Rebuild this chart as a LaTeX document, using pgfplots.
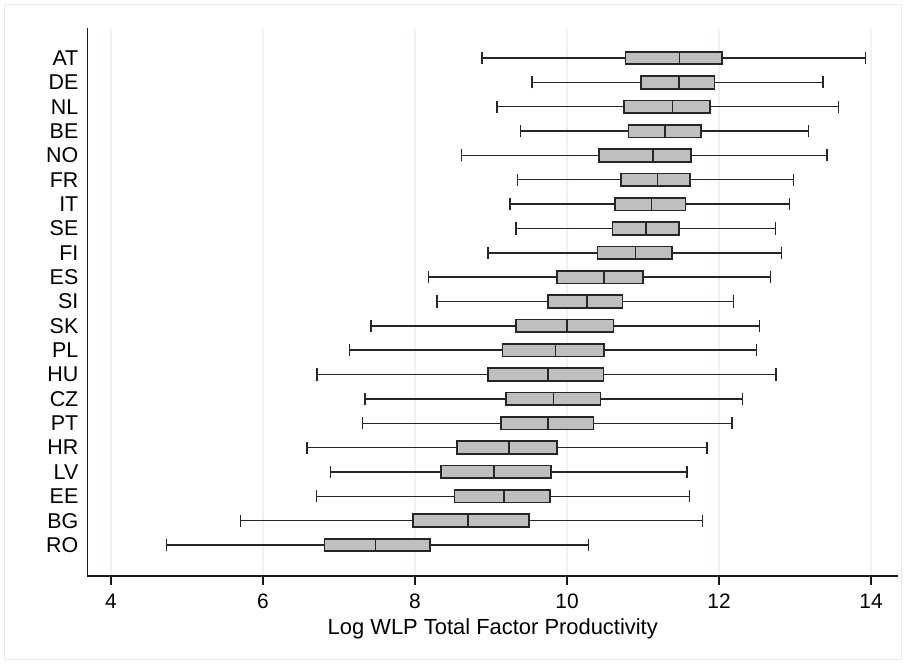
\documentclass[border=0pt]{standalone}
\usepackage{fontspec}
\setmainfont{Liberation Sans}
\usepackage{pgfplots}
\pgfplotsset{compat=1.18}
\usepgfplotslibrary{statistics}
\definecolor{boxfill}{RGB}{191,191,191}
\definecolor{edge}{RGB}{38,38,38}
\definecolor{gridc}{RGB}{236,243,244}
\definecolor{framec}{RGB}{228,235,238}
\pgfplotsset{
  bx/.style={
    boxplot/draw direction=x,
    boxplot/box extend=0.52,
    boxplot/whisker extend=0.5,
    boxplot/every box/.style={draw=edge, fill=boxfill, line width=1.7bp},
    boxplot/every whisker/.style={draw=edge, line width=1.5bp},
    boxplot/every median/.style={draw=edge, line width=1.6bp},
    mark=none,
  }
}
\begin{document}
\begin{tikzpicture}
\fill[white] (-87.5bp,-88bp) rectangle (818.5bp,576bp);
\draw[framec, line width=1bp] (-82.5bp,-83bp) rectangle (813.5bp,571bp);
\begin{axis}[
  at={(0,0)}, anchor=south west,
  scale only axis, width=810.5bp, height=548bp,
  xmin=3.69, xmax=14.355, ymin=-0.273, ymax=22.232,
  axis x line=bottom, axis y line=left,
  axis line style={-, draw=black!90, line width=1.3bp},
  xtick={4,6,8,10,12,14},
  ytick={1,...,21},
  yticklabels={RO,BG,EE,LV,HR,PT,CZ,HU,PL,SK,SI,ES,FI,SE,IT,FR,NO,BE,NL,DE,AT},
  xmajorgrids, grid style={draw=gridc, line width=1.2bp},
  tick align=outside,
  major tick length=9bp,
  xtick style={draw=black!90, line width=1.3bp},
  ytick style={draw=none},
  /pgf/number format/assume math mode=true,
  xticklabel style={font=\fontsize{21}{24}\selectfont, inner sep=0pt, yshift=-9bp},
  yticklabel style={font=\fontsize{21.5}{25}\selectfont, inner sep=0pt, anchor=east},
  xlabel={Log WLP Total Factor Productivity},
  xlabel style={font=\fontsize{22}{26}\selectfont, at={(axis description cs:0.5,0)}, anchor=base, yshift=-58bp, inner sep=0pt},
  clip=false,
]
% AT
\addplot[bx, boxplot prepared={draw position=21, lower whisker=8.88, lower quartile=10.77, median=11.48, upper quartile=12.04, upper whisker=13.93}] coordinates {};
% DE
\addplot[bx, boxplot prepared={draw position=20, lower whisker=9.54, lower quartile=10.97, median=11.47, upper quartile=11.94, upper whisker=13.37}] coordinates {};
% NL
\addplot[bx, boxplot prepared={draw position=19, lower whisker=9.08, lower quartile=10.75, median=11.39, upper quartile=11.88, upper whisker=13.57}] coordinates {};
% BE
\addplot[bx, boxplot prepared={draw position=18, lower whisker=9.39, lower quartile=10.81, median=11.29, upper quartile=11.76, upper whisker=13.18}] coordinates {};
% NO
\addplot[bx, boxplot prepared={draw position=17, lower whisker=8.61, lower quartile=10.42, median=11.13, upper quartile=11.63, upper whisker=13.42}] coordinates {};
% FR
\addplot[bx, boxplot prepared={draw position=16, lower whisker=9.35, lower quartile=10.71, median=11.19, upper quartile=11.62, upper whisker=12.98}] coordinates {};
% IT
\addplot[bx, boxplot prepared={draw position=15, lower whisker=9.25, lower quartile=10.63, median=11.11, upper quartile=11.56, upper whisker=12.93}] coordinates {};
% SE
\addplot[bx, boxplot prepared={draw position=14, lower whisker=9.33, lower quartile=10.60, median=11.04, upper quartile=11.47, upper whisker=12.74}] coordinates {};
% FI
\addplot[bx, boxplot prepared={draw position=13, lower whisker=8.96, lower quartile=10.40, median=10.90, upper quartile=11.38, upper whisker=12.82}] coordinates {};
% ES
\addplot[bx, boxplot prepared={draw position=12, lower whisker=8.18, lower quartile=9.87, median=10.49, upper quartile=11.00, upper whisker=12.68}] coordinates {};
% SI
\addplot[bx, boxplot prepared={draw position=11, lower whisker=8.29, lower quartile=9.75, median=10.26, upper quartile=10.73, upper whisker=12.19}] coordinates {};
% SK
\addplot[bx, boxplot prepared={draw position=10, lower whisker=7.42, lower quartile=9.33, median=10.00, upper quartile=10.61, upper whisker=12.53}] coordinates {};
% PL
\addplot[bx, boxplot prepared={draw position=9, lower whisker=7.14, lower quartile=9.15, median=9.85, upper quartile=10.49, upper whisker=12.49}] coordinates {};
% HU
\addplot[bx, boxplot prepared={draw position=8, lower whisker=6.71, lower quartile=8.96, median=9.75, upper quartile=10.48, upper whisker=12.75}] coordinates {};
% CZ
\addplot[bx, boxplot prepared={draw position=7, lower whisker=7.34, lower quartile=9.20, median=9.82, upper quartile=10.44, upper whisker=12.31}] coordinates {};
% PT
\addplot[bx, boxplot prepared={draw position=6, lower whisker=7.31, lower quartile=9.13, median=9.75, upper quartile=10.35, upper whisker=12.17}] coordinates {};
% HR
\addplot[bx, boxplot prepared={draw position=5, lower whisker=6.58, lower quartile=8.55, median=9.24, upper quartile=9.87, upper whisker=11.84}] coordinates {};
% LV
\addplot[bx, boxplot prepared={draw position=4, lower whisker=6.89, lower quartile=8.34, median=9.04, upper quartile=9.79, upper whisker=11.58}] coordinates {};
% EE
\addplot[bx, boxplot prepared={draw position=3, lower whisker=6.70, lower quartile=8.52, median=9.17, upper quartile=9.78, upper whisker=11.61}] coordinates {};
% BG
\addplot[bx, boxplot prepared={draw position=2, lower whisker=5.70, lower quartile=7.97, median=8.70, upper quartile=9.50, upper whisker=11.78}] coordinates {};
% RO
\addplot[bx, boxplot prepared={draw position=1, lower whisker=4.73, lower quartile=6.81, median=7.48, upper quartile=8.20, upper whisker=10.28}] coordinates {};
\end{axis}
\pgfresetboundingbox
\path (-87.5bp,-88bp) rectangle (818.5bp,576bp);
\end{tikzpicture}
\end{document}
